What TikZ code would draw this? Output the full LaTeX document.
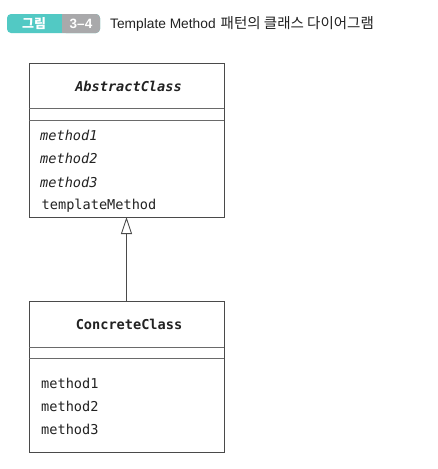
\documentclass[tikz,border=0pt]{standalone}
\usepackage{fontspec}
\setmainfont{Noto Sans CJK KR}
\setmonofont{DejaVu Sans Mono}
\newfontfamily\latinsans{Liberation Sans}
\usetikzlibrary{arrows.meta}
\definecolor{teal}{HTML}{52C9C4}
\definecolor{badgegray}{HTML}{A9A9AB}
\definecolor{boxline}{HTML}{4A4A4A}
\definecolor{sepline}{HTML}{6A6A6A}
\definecolor{txt}{HTML}{222222}
\tikzset{
  classbox/.style={draw=boxline, line width=0.9pt, minimum width=195pt, anchor=north west, inner sep=0pt},
  sep/.style={draw=sepline, line width=0.8pt},
  member/.style={anchor=base west, inner sep=0pt, font=\fontsize{13.6}{16}\ttfamily, text=txt},
  cname/.style={anchor=base, inner sep=0pt, font=\fontsize{13.6}{16}\ttfamily\bfseries, text=txt},
}
\begin{document}
\begin{tikzpicture}[x=1pt,y=-1pt]
\useasboundingbox[fill=white] (0,0) rectangle (438,469);
% title badge
\fill[teal, rounded corners=4pt] (7,14) rectangle (100,33);
\fill[badgegray, rounded corners=4pt] (62,14) rectangle (100,33);
\fill[badgegray] (62,14) rectangle (70,33);
\node[inner sep=0pt, text=white, font=\fontsize{13}{14}\selectfont\bfseries] (badge1) at (34,23.5) {그림};
\node[inner sep=0pt, text=white, font=\fontsize{13.5}{14}\latinsans\bfseries] (badge2) at (81,23.5) {3–4};
\node[anchor=base west, inner sep=0pt, text=txt] (title) at (110,28.5) {{\fontsize{13.75}{14}\latinsans Template Method}\hspace{5pt}{\fontsize{14.5}{14}\selectfont 패턴의 클래스 다이어그램}};
% AbstractClass
\node[classbox, minimum height=154pt] (abs) at (29,63) {};
\draw[sep] (29,108) -- (224,108);
\draw[sep] (29,120) -- (224,120);
\node[cname] (absname) at (128.5,91) {\itshape AbstractClass};
\node[member] (am1) at (40,140) {\itshape method1};
\node[member] (am2) at (40,163) {\itshape method2};
\node[member] (am3) at (40,187) {\itshape method3};
\node[member] (atm) at (41.5,209) {templateMethod};
% ConcreteClass
\node[classbox, minimum height=151pt] (con) at (29,301) {};
\draw[sep] (29,347) -- (224,347);
\draw[sep] (29,358) -- (224,358);
\node[cname] (conname) at (129,329) {ConcreteClass};
\node[member] (cm1) at (41,388) {method1};
\node[member] (cm2) at (41,411) {method2};
\node[member] (cm3) at (41,434) {method3};
% inheritance
\coordinate (tip) at (126.5,217);
\coordinate (base) at (126.5,301);
\draw[boxline, line width=0.9pt, -{Triangle[open, length=17pt, width=11pt, fill=white]}] (base) -- (tip);
\end{tikzpicture}
\end{document}
